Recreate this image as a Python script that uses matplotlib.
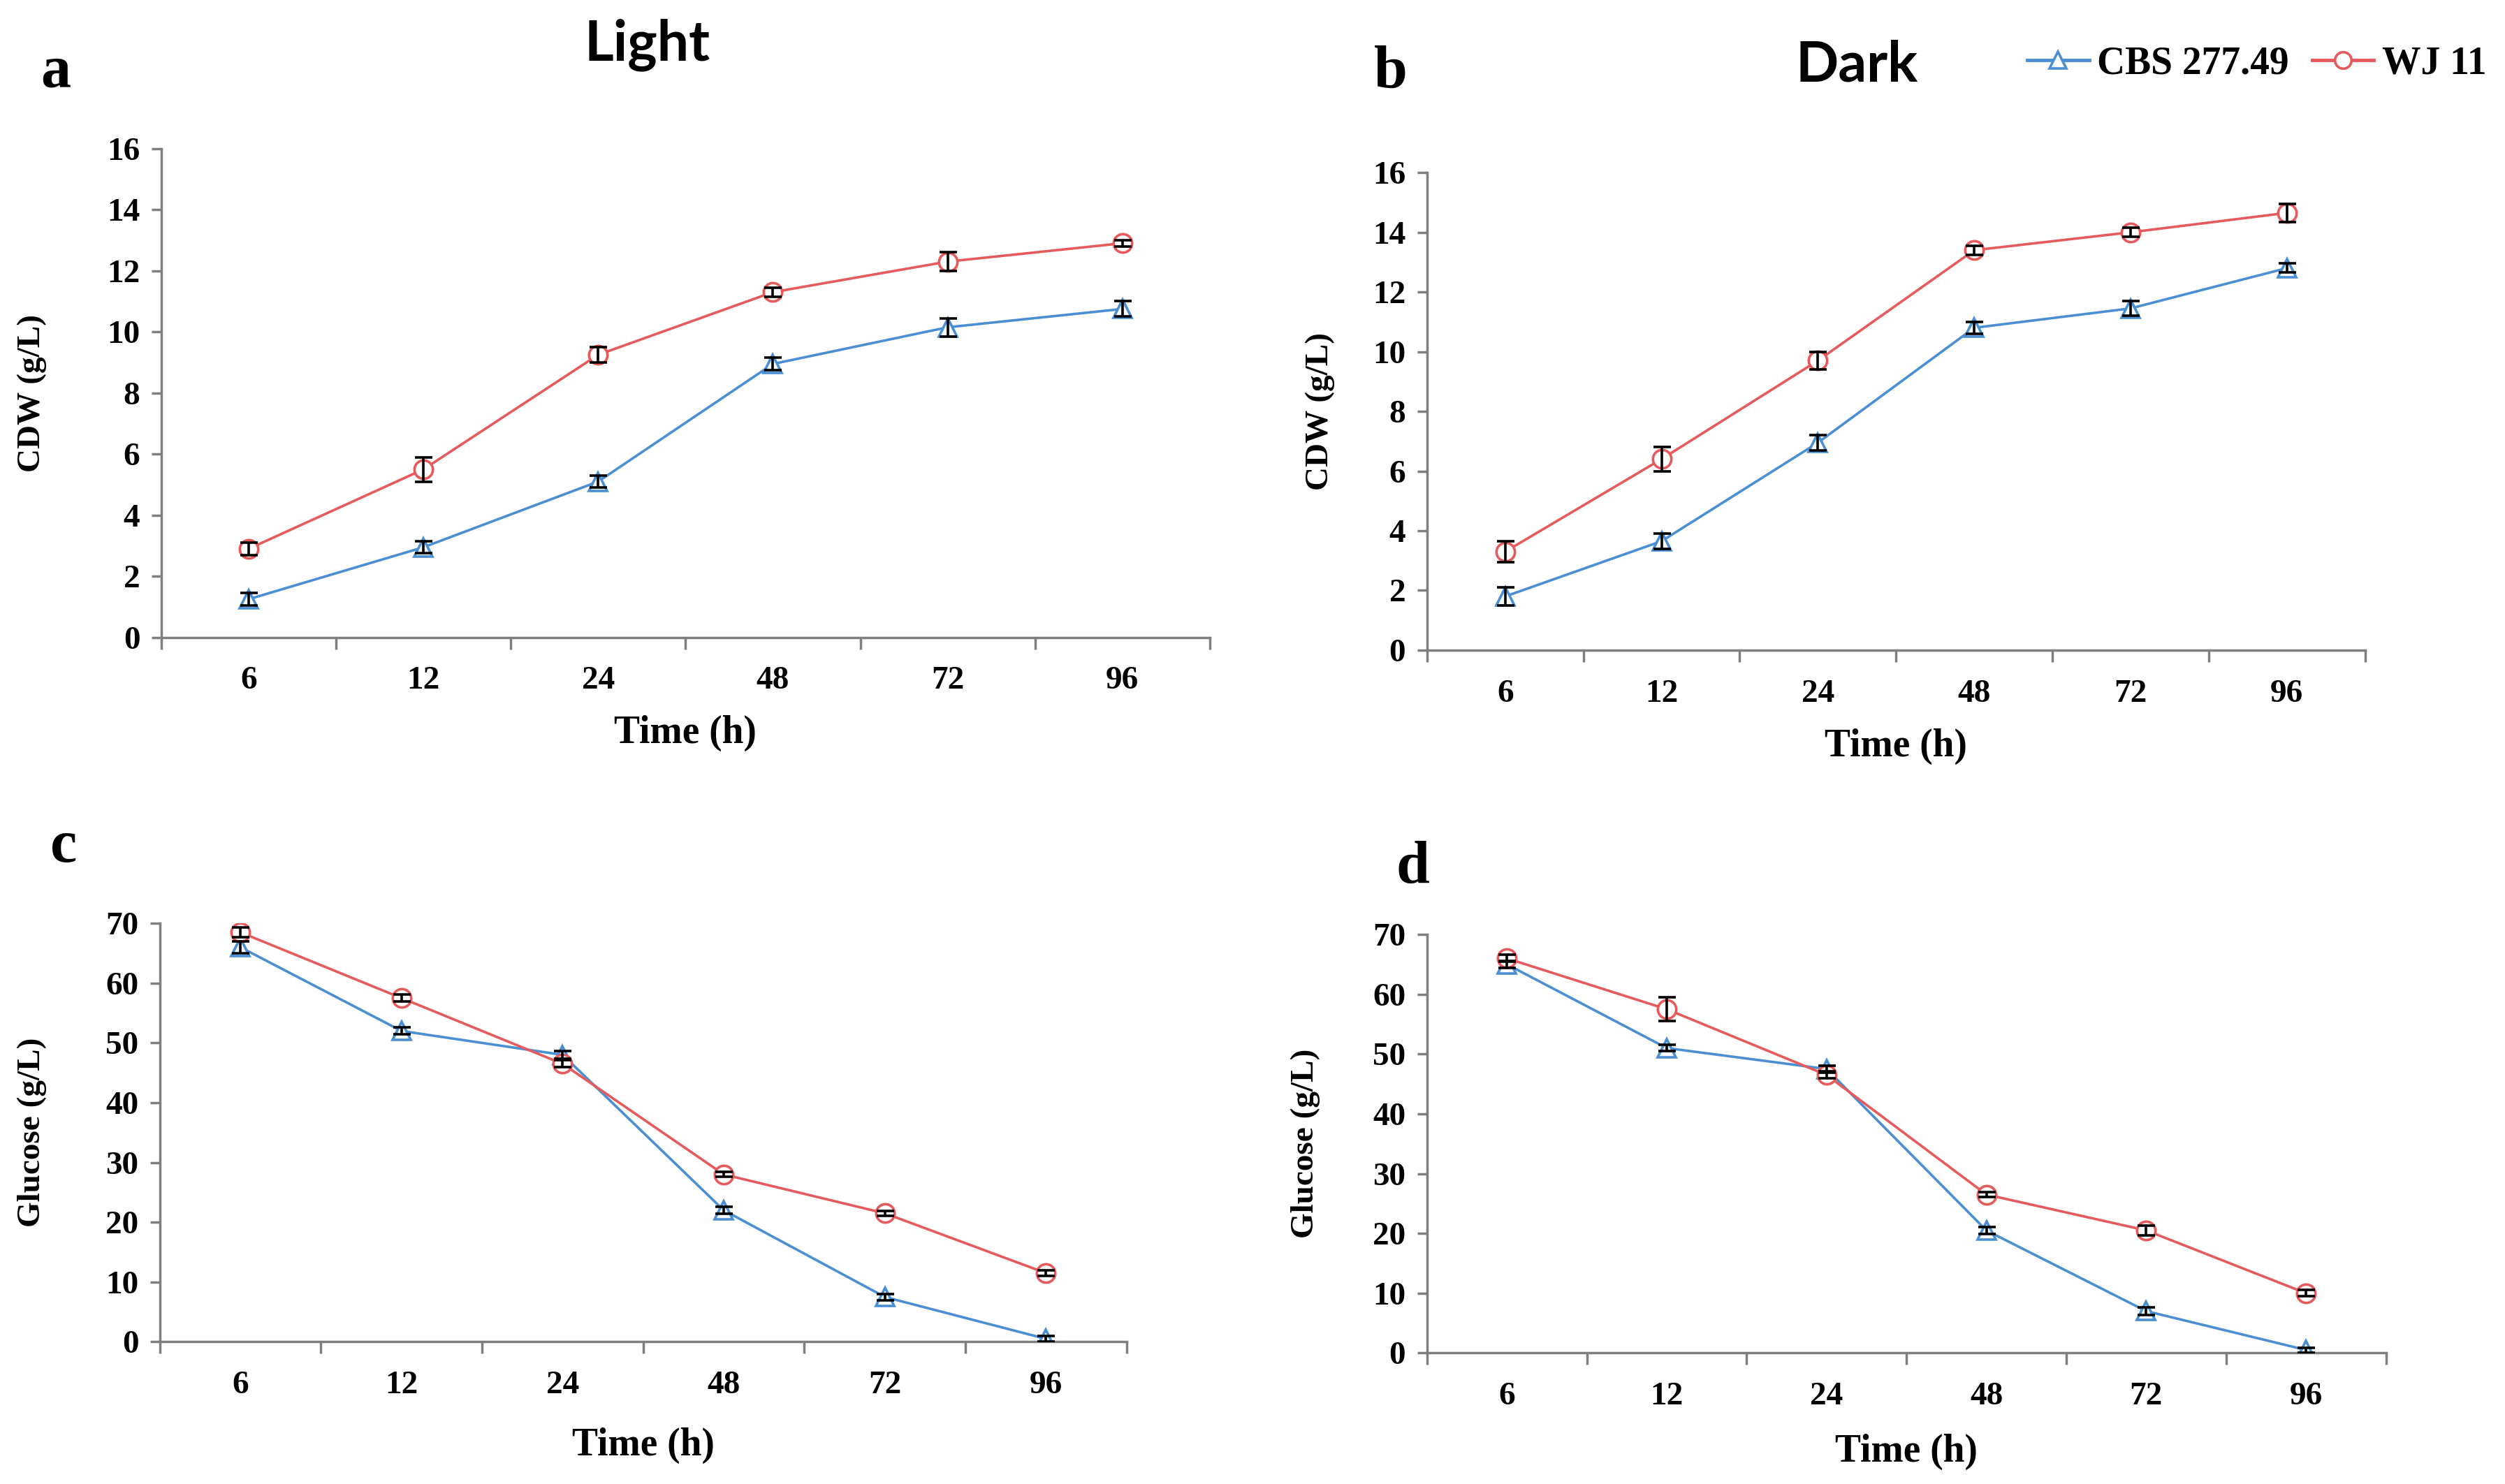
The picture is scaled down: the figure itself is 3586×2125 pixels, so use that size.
import numpy as np
import matplotlib
matplotlib.use("Agg")
import matplotlib.pyplot as plt
from matplotlib.lines import Line2D

# dati
times = ["6", "12", "24", "48", "72", "96"]

# a - Light, CDW
light_cdw_cbs = [1.25, 2.95, 5.1, 8.95, 10.15, 10.75]
light_cdw_cbs_err = [0.2, 0.2, 0.2, 0.2, 0.3, 0.25]
light_cdw_wj = [2.9, 5.5, 9.25, 11.3, 12.3, 12.9]
light_cdw_wj_err = [0.2, 0.4, 0.25, 0.15, 0.3, 0.1]

# b - Dark, CDW
dark_cdw_cbs = [1.8, 3.65, 6.95, 10.8, 11.45, 12.8]
dark_cdw_cbs_err = [0.3, 0.25, 0.25, 0.2, 0.25, 0.15]
dark_cdw_wj = [3.3, 6.4, 9.7, 13.4, 14.0, 14.65]
dark_cdw_wj_err = [0.35, 0.4, 0.3, 0.15, 0.15, 0.3]

# c - Light, glucose
light_glc_cbs = [66.0, 52.0, 48.0, 22.0, 7.5, 0.5]
light_glc_cbs_err = [1.0, 0.6, 0.6, 0.6, 0.5, 0.5]
light_glc_wj = [68.5, 57.5, 46.5, 28.0, 21.5, 11.5]
light_glc_wj_err = [0.8, 0.6, 0.6, 0.4, 0.4, 0.5]

# d - Dark, glucose
dark_glc_cbs = [65.0, 51.0, 47.5, 20.5, 7.0, 0.5]
dark_glc_cbs_err = [0.6, 0.5, 0.6, 0.6, 0.6, 0.4]
dark_glc_wj = [66.0, 57.5, 46.5, 26.5, 20.5, 10.0]
dark_glc_wj_err = [0.6, 2.0, 0.6, 0.4, 0.8, 0.5]

BLUE = "#4A8FD3"
RED = "#E65A5C"
GREY = "#7F7F7F"
SERIF = "Liberation Serif"

plt.rcParams["font.family"] = [SERIF, "DejaVu Serif"]
plt.rcParams["font.weight"] = "bold"

fig = plt.figure(figsize=(35.87, 21.25), dpi=100)


def draw_panel(rect, cbs, cbs_err, wj, wj_err, ymax, ystep, ylabel, ylabel_x, xlabel_y):
    ax = fig.add_axes(rect)
    x = np.arange(len(times))
    for vals, errs, col, mk in [(cbs, cbs_err, BLUE, "^"), (wj, wj_err, RED, "o")]:
        ax.plot(x, vals, color=col, lw=2.6, marker=mk, ms=19, mfc="white",
                mec=col, mew=2.6, zorder=2)
        ax.errorbar(x, vals, yerr=errs, fmt="none", ecolor="black",
                    elinewidth=2.6, capsize=9, capthick=2.6, zorder=3)
    ax.set_xlim(-0.5, len(times) - 0.5)
    ax.set_ylim(0, ymax)
    ax.set_yticks(np.arange(0, ymax + 1, ystep))
    ax.set_xticks(x)
    ax.set_xticklabels(times)
    ax.set_xticks(np.arange(-0.5, len(times)), minor=True)
    ax.tick_params(axis="x", which="major", length=0, pad=30, labelsize=34)
    ax.tick_params(axis="x", which="minor", length=12, width=2.5, color=GREY)
    ax.tick_params(axis="y", length=10, width=2.5, color=GREY, pad=12, labelsize=34)
    for side in ["top", "right"]:
        ax.spines[side].set_visible(False)
    for side in ["left", "bottom"]:
        ax.spines[side].set_color(GREY)
        ax.spines[side].set_linewidth(2.5)
    for lab in ax.get_xticklabels() + ax.get_yticklabels():
        lab.set_fontweight("bold")
    pos = ax.get_position()
    fig.text(ylabel_x, (pos.y0 + pos.y1) / 2, ylabel, rotation=90, ha="center",
             va="center", fontsize=34, fontweight="bold")
    fig.text((pos.x0 + pos.x1) / 2, xlabel_y, "Time (h)", ha="center", va="center",
             fontsize=40, fontweight="bold")
    return ax


draw_panel([0.0644, 0.5705, 0.4184, 0.3294], light_cdw_cbs, light_cdw_cbs_err,
           light_cdw_wj, light_cdw_wj_err, 16, 2, "CDW (g/L)", 0.0128, 0.506)
draw_panel([0.5695, 0.5619, 0.3744, 0.3218], dark_cdw_cbs, dark_cdw_cbs_err,
           dark_cdw_wj, dark_cdw_wj_err, 16, 2, "CDW (g/L)", 0.5268, 0.497)
draw_panel([0.0638, 0.0958, 0.3858, 0.2820], light_glc_cbs, light_glc_cbs_err,
           light_glc_wj, light_glc_wj_err, 70, 10, "Glucose (g/L)", 0.0128, 0.026)
draw_panel([0.5695, 0.0883, 0.3827, 0.2820], dark_glc_cbs, dark_glc_cbs_err,
           dark_glc_wj, dark_glc_wj_err, 70, 10, "Glucose (g/L)", 0.521, 0.0215)

# lettere dei pannelli e titoli
for lbl, px, py in [("a", 0.0223, 0.951), ("b", 0.555, 0.951),
                    ("c", 0.0255, 0.429), ("d", 0.5638, 0.415)]:
    fig.text(px, py, lbl, ha="center", va="center", fontsize=62, fontweight="bold")

fig.text(0.2583, 0.970, "Light", ha="center", va="center", fontsize=58,
         fontweight="bold", family=["Lato", "DejaVu Sans"])
fig.text(0.741, 0.956, "Dark", ha="center", va="center", fontsize=58,
         fontweight="bold", family=["Lato", "DejaVu Sans"])

handles = [
    Line2D([], [], color=BLUE, lw=3.5, marker="^", ms=17, mfc="white", mec=BLUE, mew=2.6),
    Line2D([], [], color=RED, lw=3.5, marker="o", ms=17, mfc="white", mec=RED, mew=2.6),
]
fig.legend(handles, ["CBS 277.49", "WJ 11"], loc="center right",
           bbox_to_anchor=(1.0, 0.957), ncol=2, frameon=False, handlelength=1.6,
           handletextpad=0.2, columnspacing=0.6, borderaxespad=0.1,
           prop={"family": SERIF, "weight": "bold", "size": 40})

fig.savefig("out.png", dpi=100)
